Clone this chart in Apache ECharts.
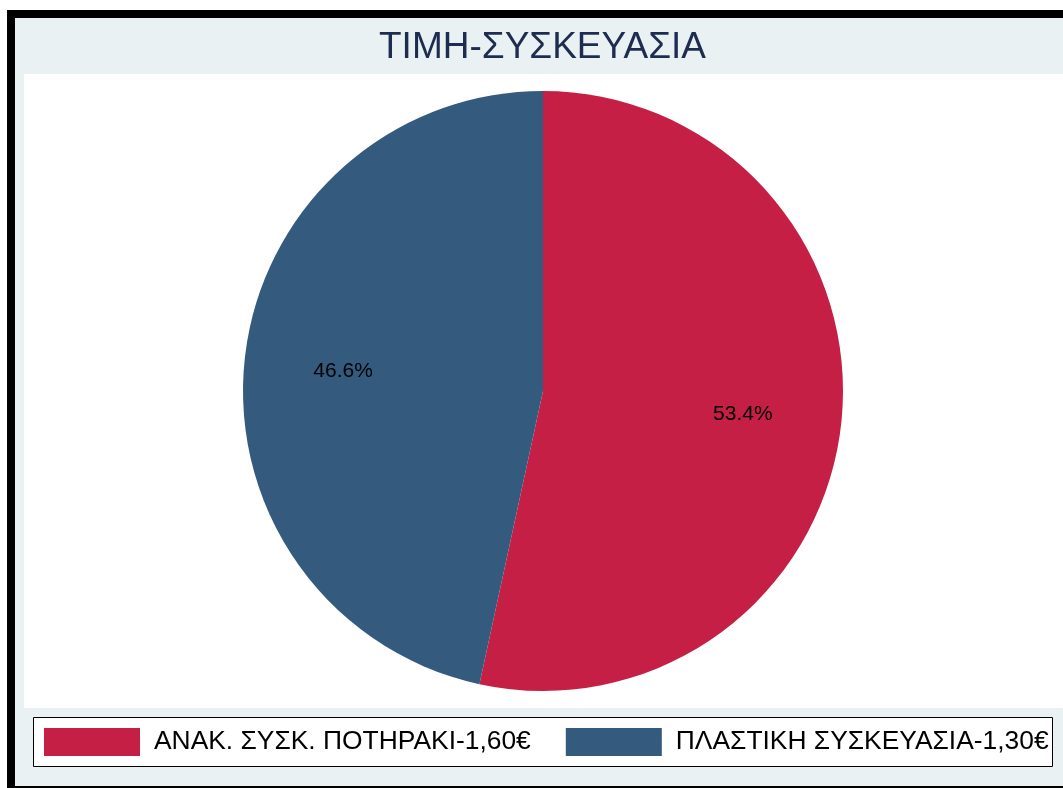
<!DOCTYPE html>
<html>
<head>
<meta charset="utf-8">
<script src="https://cdn.jsdelivr.net/npm/echarts@6/dist/echarts.min.js"></script>
<style>
html,body{margin:0;padding:0;background:#fff;}
#chart{width:1063px;height:788px;}
</style>
</head>
<body>
<div id="chart"></div>
<script>
const titleText = 'ΤΙΜΗ-ΣΥΣΚΕΥΑΣΙΑ';
const categories = ['ΑΝΑΚ. ΣΥΣΚ. ΠΟΤΗΡΑΚΙ-1,60€', 'ΠΛΑΣΤΙΚΗ ΣΥΣΚΕΥΑΣΙΑ-1,30€'];
const shares = [53.4, 46.6];
const colors = ['#C51F46', '#345A7E'];

const FONT = '"Liberation Sans", Arial, "DejaVu Sans", sans-serif';
const chart = echarts.init(document.getElementById('chart'), null, {renderer: 'canvas'});

const pieData = categories.map((c, i) => ({name: c, value: shares[i], itemStyle: {color: colors[i]}}));
const labelData = categories.map((c, i) => ({name: c, value: shares[i]}));

chart.setOption({
  animation: false,
  backgroundColor: '#ffffff',
  graphic: [
    {type: 'rect', z: -10, silent: true,
     shape: {x: 11, y: 14, width: 1100, height: 776},
     style: {fill: '#EAF1F3', stroke: '#000000', lineWidth: 8}},
    {type: 'rect', z: -9, silent: true,
     shape: {x: 24, y: 74, width: 1060, height: 634},
     style: {fill: '#ffffff'}},
    {type: 'rect', z: -8, silent: true,
     shape: {x: 33.5, y: 717.5, width: 1019, height: 49},
     style: {fill: '#ffffff', stroke: '#000000', lineWidth: 1}},
    {type: 'text', z: 10, silent: true,
     style: {text: titleText, x: 542.5, y: 48, textAlign: 'center', textVerticalAlign: 'middle',
             font: '37px ' + FONT, fill: '#1E2C50'}}
  ],
  legend: {
    show: true,
    data: categories,
    left: 44,
    top: 728,
    padding: 0,
    orient: 'horizontal',
    icon: 'rect',
    itemWidth: 96,
    itemHeight: 28,
    itemGap: 35,
    selectedMode: false,
    textStyle: {fontFamily: FONT, fontSize: 26.4, color: '#000000', padding: [0, 0, 0, 9]}
  },
  series: [
    {
      type: 'pie',
      center: [543, 391],
      radius: [0, 300],
      startAngle: 90,
      clockwise: true,
      silent: true,
      label: {show: false},
      labelLine: {show: false},
      emphasis: {disabled: true},
      itemStyle: {borderWidth: 0},
      data: pieData
    },
    {
      type: 'pie',
      center: [543, 393],
      radius: [96, 300],
      startAngle: 90,
      clockwise: true,
      silent: true,
      legendHoverLink: false,
      emphasis: {disabled: true},
      itemStyle: {color: 'rgba(0,0,0,0)', borderWidth: 0},
      labelLine: {show: false},
      label: {
        show: true,
        position: 'inside',
        fontFamily: FONT,
        fontSize: 21,
        color: '#000000',
        formatter: p => p.percent.toFixed(1) + '%'
      },
      data: labelData
    }
  ]
});
</script>
</body>
</html>
